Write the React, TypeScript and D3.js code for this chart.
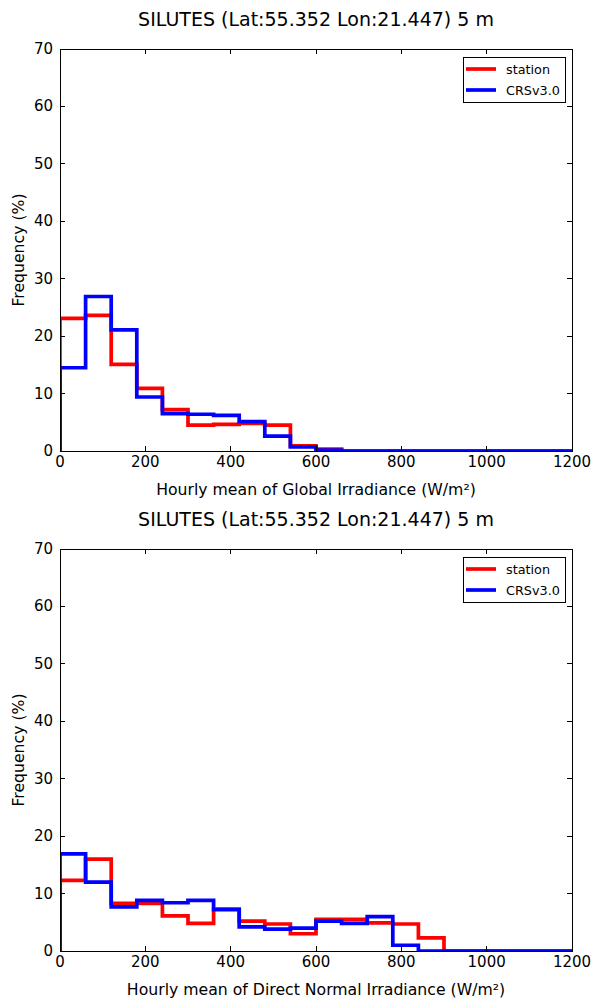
import React from "react";
import * as d3 from "d3";

const binEdges = [0, 60, 120, 180, 240, 300, 360, 420, 480, 540, 600, 660, 720, 780, 840, 900, 960, 1020, 1080, 1140, 1200];
const xTicks = [0, 200, 400, 600, 800, 1000, 1200];
const yTicks = [0, 10, 20, 30, 40, 50, 60, 70];
const seriesNames = ["station", "CRSv3.0"];
const seriesColors = ["#ff0000", "#0000ff"];
const titleText = "SILUTES (Lat:55.352 Lon:21.447) 5 m";
const yLabel = "Frequency (%)";
const xLabels = ["Hourly mean of Global Irradiance (W/m\u00b2)", "Hourly mean of Direct Normal Irradiance (W/m\u00b2)"];

const ghiStation = [23.1, 23.6, 15.1, 10.9, 7.2, 4.5, 4.65, 4.8, 4.5, 0.9, 0.35, 0, 0, 0, 0, 0, 0, 0, 0, 0];
const ghiCrs = [14.5, 26.9, 21.1, 9.4, 6.5, 6.4, 6.2, 5.1, 2.6, 0.7, 0.15, 0, 0, 0, 0, 0, 0, 0, 0, 0];
const dniStation = [12.3, 16.0, 8.3, 8.3, 6.1, 4.8, 7.3, 5.2, 4.7, 3.0, 5.5, 5.5, 4.9, 4.7, 2.3, 0, 0, 0, 0, 0];
const dniCrs = [16.9, 12.0, 7.7, 8.8, 8.4, 8.8, 7.2, 4.2, 3.8, 4.0, 5.2, 4.8, 6.0, 1.0, 0, 0, 0, 0, 0, 0];

const FONT = "DejaVu Sans, sans-serif";

function stepPath(vals: number[], x: d3.ScaleLinear<number, number>, y: d3.ScaleLinear<number, number>) {
  const pts: [number, number][] = [[binEdges[0], 0]];
  vals.forEach((v, i) => {
    pts.push([binEdges[i], v]);
    pts.push([binEdges[i + 1], v]);
  });
  pts.push([binEdges[binEdges.length - 1], 0]);
  const line = d3.line<[number, number]>().x((d) => x(d[0])).y((d) => y(d[1]));
  return line(pts) || "";
}

function Panel({ top, series, xLabel }: { top: number; series: number[][]; xLabel: string }) {
  const left = 60, right = 572;
  const plotTop = top + 49, plotBottom = top + 451;
  const x = d3.scaleLinear().domain([0, 1200]).range([left, right]);
  const y = d3.scaleLinear().domain([0, 70]).range([plotBottom, plotTop]);
  const clipId = `clip${top}`;
  return (
    <g>
      <defs>
        <clipPath id={clipId}>
          <rect x={left} y={plotTop - 2} width={right - left} height={plotBottom - plotTop + 2} />
        </clipPath>
      </defs>
      <text x={316} y={top + 26} textAnchor="middle" fontFamily={FONT} fontSize={19}>{titleText}</text>
      <g clipPath={`url(#${clipId})`}>
        {series.map((vals, i) => (
          <path key={i} d={stepPath(vals, x, y)} fill="none" stroke={seriesColors[i]} strokeWidth={3.7} strokeLinejoin="miter" />
        ))}
      </g>
      <rect x={left} y={plotTop} width={right - left} height={plotBottom - plotTop} fill="none" stroke="#000" strokeWidth={1} shapeRendering="crispEdges" />
      {xTicks.map((t) => (
        <g key={t}>
          <line x1={x(t)} x2={x(t)} y1={plotBottom} y2={plotBottom - 5} stroke="#000" shapeRendering="crispEdges" />
          <line x1={x(t)} x2={x(t)} y1={plotTop} y2={plotTop + 5} stroke="#000" shapeRendering="crispEdges" />
          <text x={x(t)} y={plotBottom + 16} textAnchor="middle" fontFamily={FONT} fontSize={15}>{t}</text>
        </g>
      ))}
      {yTicks.map((t) => (
        <g key={t}>
          <line x1={left} x2={left + 5} y1={y(t)} y2={y(t)} stroke="#000" shapeRendering="crispEdges" />
          <line x1={right} x2={right - 5} y1={y(t)} y2={y(t)} stroke="#000" shapeRendering="crispEdges" />
          <text x={53} y={y(t) + 5} textAnchor="end" fontFamily={FONT} fontSize={15}>{t}</text>
        </g>
      ))}
      <text x={316} y={top + 495} textAnchor="middle" fontFamily={FONT} fontSize={15.7}>{xLabel}</text>
      <text transform={`translate(24,${(plotTop + plotBottom) / 2}) rotate(-90)`} textAnchor="middle" fontFamily={FONT} fontSize={15.7}>{yLabel}</text>
      <g>
        <rect x={463.5} y={top + 57.5} width={102} height={45} fill="#fff" stroke="#000" strokeWidth={1} />
        {seriesNames.map((n, i) => (
          <g key={n}>
            <line x1={466} x2={496} y1={top + 69 + i * 21} y2={top + 69 + i * 21} stroke={seriesColors[i]} strokeWidth={3.7} />
            <text x={506} y={top + 73.5 + i * 21} fontFamily={FONT} fontSize={12.8}>{n}</text>
          </g>
        ))}
      </g>
    </g>
  );
}

export default function App() {
  return (
    <svg width={591} height={998} style={{ position: "absolute", left: 0, top: 0, background: "#fff" }}>
      <rect width={591} height={998} fill="#fff" />
      <Panel top={0} series={[ghiStation, ghiCrs]} xLabel={xLabels[0]} />
      <Panel top={500} series={[dniStation, dniCrs]} xLabel={xLabels[1]} />
    </svg>
  );
}
